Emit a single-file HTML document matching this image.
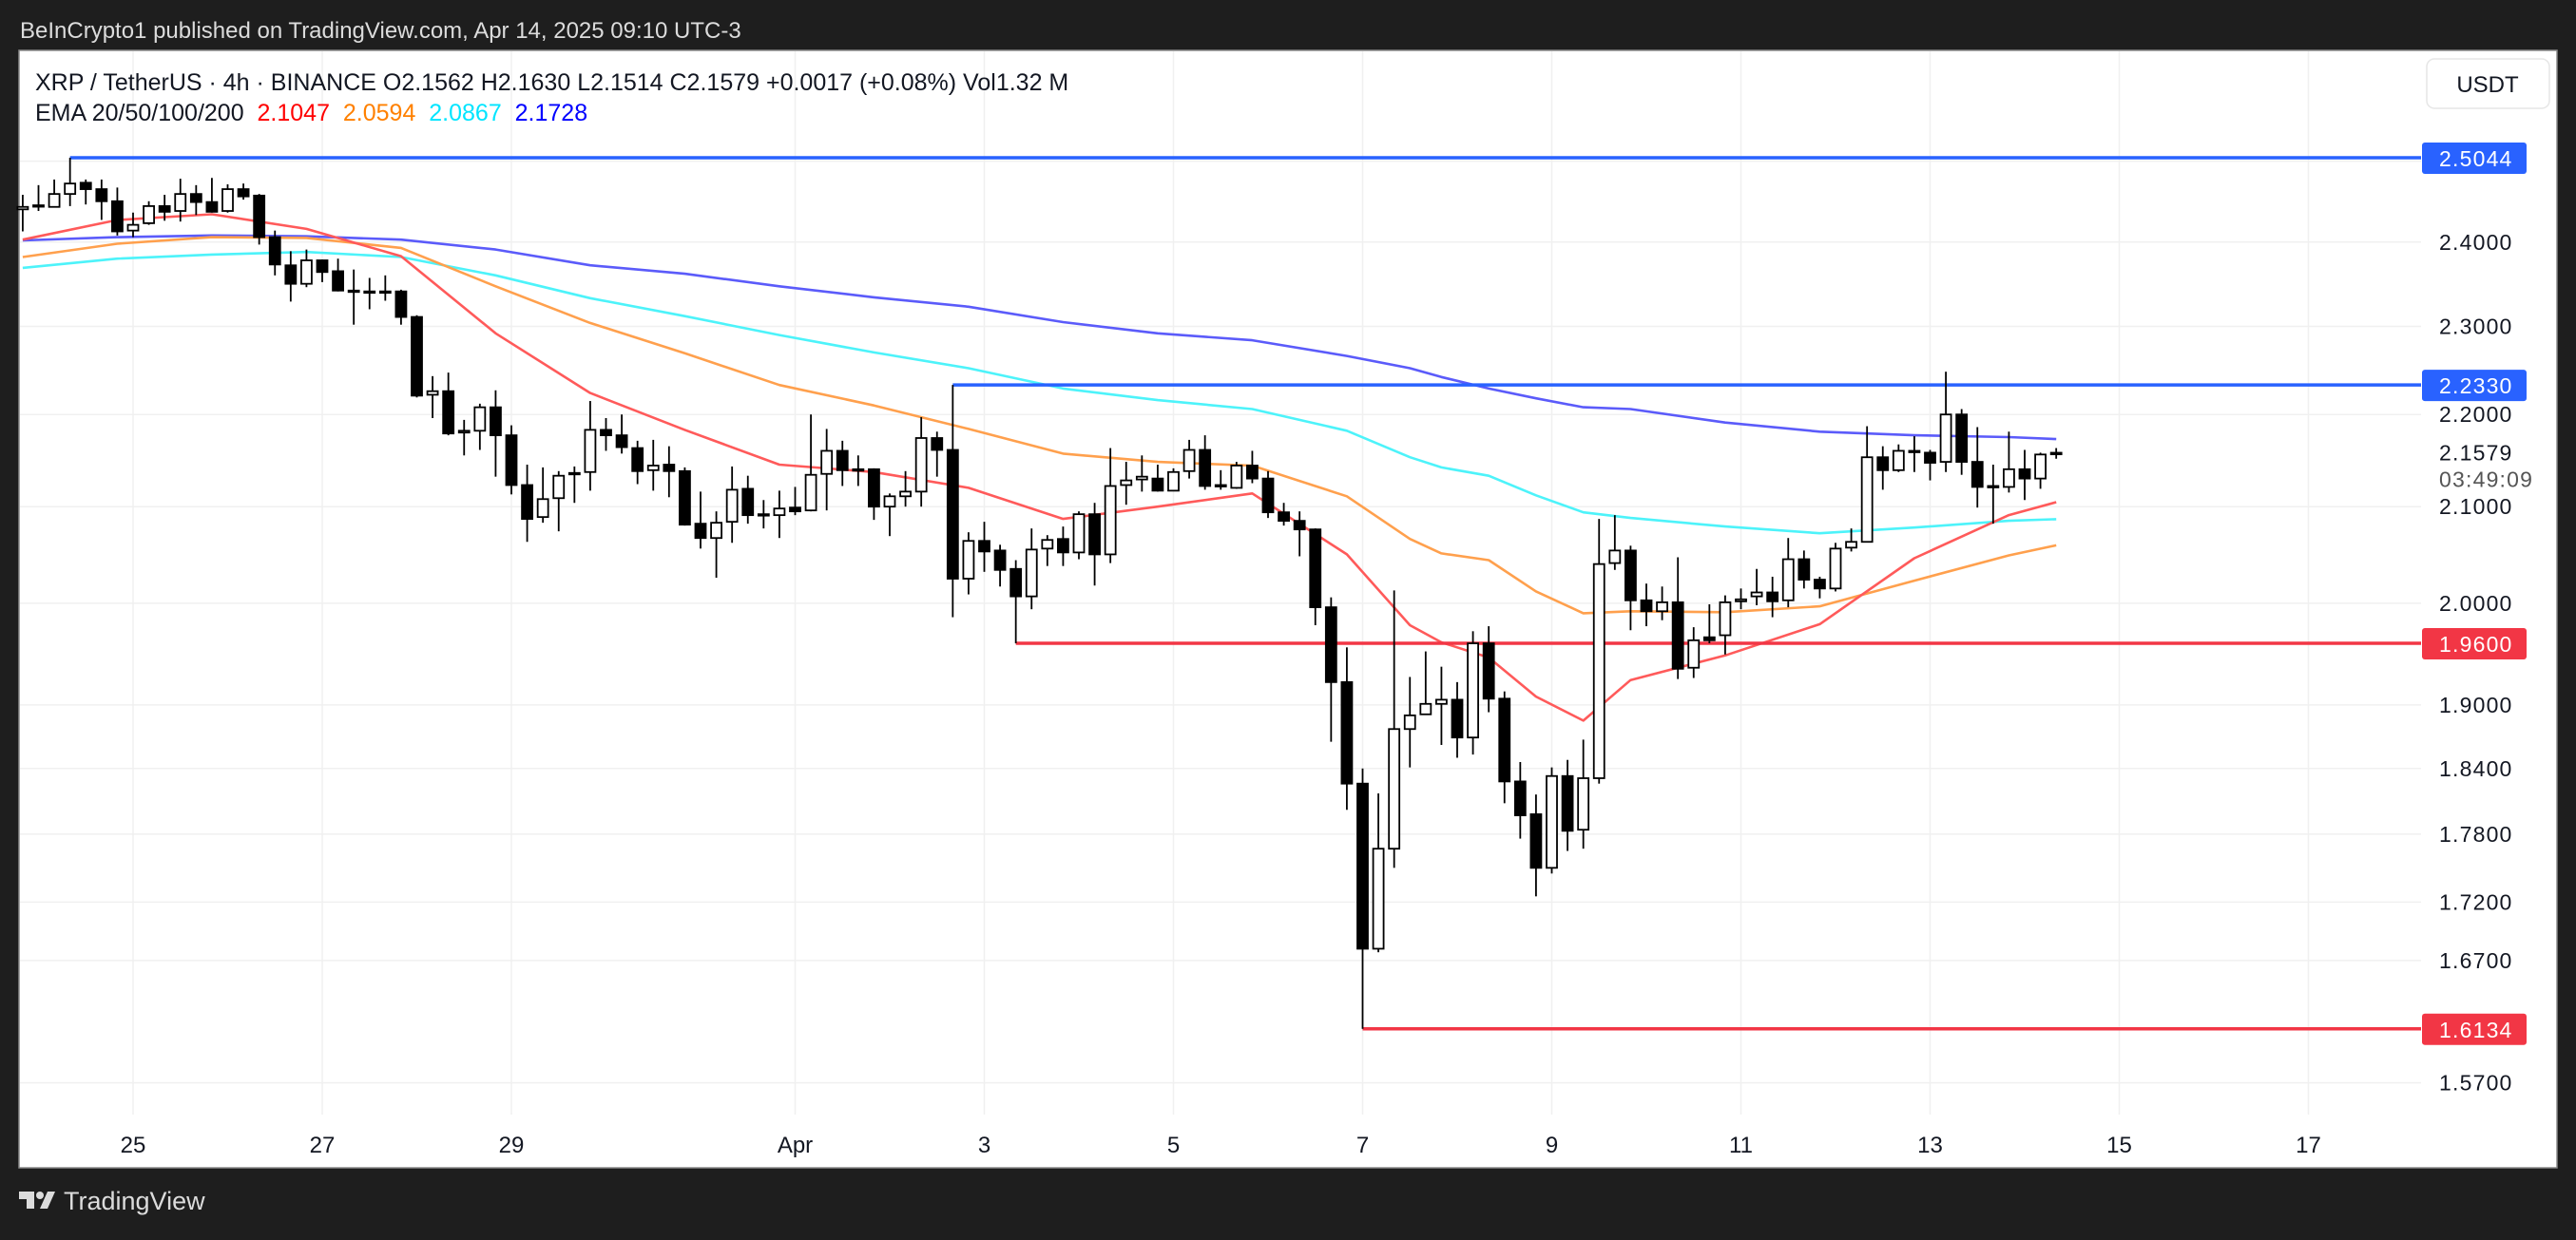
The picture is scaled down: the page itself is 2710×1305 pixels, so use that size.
<!DOCTYPE html>
<html><head><meta charset="utf-8">
<style>
html,body{margin:0;padding:0;background:#1e1e1e;}
body{width:2710px;height:1300px;overflow:hidden;position:relative;font-family:"Liberation Sans",sans-serif;}
svg text{font-family:"Liberation Sans",sans-serif;}
</style></head>
<body>
<svg id="chart" width="2710" height="1300" viewBox="0 0 2710 1300" xmlns="http://www.w3.org/2000/svg">
  <rect x="0" y="0" width="2710" height="1300" fill="#1e1e1e"/>
  <text x="21" y="40" fill="#dcdcdc" font-size="24">BeInCrypto1 published on TradingView.com, Apr 14, 2025 09:10 UTC-3</text>
  <rect x="20" y="53" width="2670" height="1176" fill="#ffffff" stroke="#8a8a8a" stroke-width="1.5"/>
  <g id="grid"></g>
  <g id="emas"></g>
  <g id="levels"></g>
  <g id="candles"></g>
  <g id="yaxis"></g>
  <g id="xaxis"></g>
  <g>
    <text x="37" y="95" font-size="25" fill="#131722">XRP / TetherUS · 4h · BINANCE  O2.1562  H2.1630  L2.1514  C2.1579  +0.0017 (+0.08%)  Vol1.32 M</text>
    <text x="37" y="127" font-size="25" fill="#131722" xml:space="preserve">EMA 20/50/100/200  <tspan fill="#ff0000">2.1047</tspan>  <tspan fill="#ff8000">2.0594</tspan>  <tspan fill="#00e5ff">2.0867</tspan>  <tspan fill="#0000ff">2.1728</tspan></text>
  </g>
  <g>
    <rect x="2553" y="62" width="129" height="52" rx="8" fill="#ffffff" stroke="#e6e6e6" stroke-width="1.5"/>
    <text x="2617" y="97" font-size="24" text-anchor="middle" fill="#131722">USDT</text>
  </g>
  <g>
    <path d="M20 1254 H36 V1272 H28 V1262 H20 Z" fill="#dcdcdc"/>
    <circle cx="42" cy="1258" r="4" fill="#dcdcdc"/>
    <path d="M50 1254 H58 L50 1272 H42 Z" fill="#dcdcdc"/>
    <text x="67" y="1273" font-size="27" fill="#dcdcdc">TradingView</text>
  </g>
</svg>
<script>
// ---- data ----
const candleOpen = [2.440,2.444,2.443,2.459,2.473,2.465,2.450,2.414,2.423,2.444,2.438,2.459,2.449,2.438,2.465,2.457,2.406,2.372,2.350,2.378,2.365,2.342,2.341,2.340,2.341,2.311,2.222,2.226,2.180,2.182,2.208,2.177,2.123,2.089,2.109,2.135,2.137,2.183,2.177,2.163,2.139,2.145,2.138,2.082,2.067,2.084,2.119,2.091,2.091,2.099,2.096,2.135,2.160,2.139,2.140,2.100,2.111,2.116,2.174,2.161,2.025,2.064,2.054,2.035,2.007,2.056,2.066,2.052,2.092,2.050,2.123,2.129,2.130,2.117,2.138,2.161,2.122,2.120,2.144,2.130,2.094,2.085,2.076,1.996,1.922,1.826,1.680,1.767,1.877,1.891,1.901,1.905,1.869,1.960,1.906,1.828,1.798,1.750,1.833,1.784,1.831,2.041,2.054,2.003,1.992,2.001,1.936,1.966,1.968,2.002,2.007,2.011,2.003,2.045,2.024,2.015,2.057,2.063,2.153,2.139,2.160,2.158,2.148,2.200,2.148,2.121,2.121,2.140,2.130,2.1562];
const candleHigh = [2.458,2.470,2.477,2.5044,2.477,2.477,2.467,2.436,2.450,2.458,2.478,2.470,2.479,2.471,2.472,2.459,2.414,2.389,2.391,2.379,2.380,2.367,2.357,2.360,2.343,2.313,2.243,2.247,2.194,2.212,2.227,2.188,2.145,2.142,2.138,2.143,2.215,2.196,2.200,2.171,2.172,2.165,2.142,2.116,2.095,2.143,2.133,2.107,2.117,2.121,2.200,2.184,2.171,2.155,2.141,2.114,2.138,2.197,2.181,2.233,2.073,2.084,2.060,2.044,2.077,2.070,2.079,2.095,2.104,2.163,2.148,2.155,2.145,2.141,2.172,2.177,2.139,2.148,2.160,2.138,2.104,2.095,2.077,2.006,1.956,1.840,1.817,2.013,1.927,1.952,1.937,1.922,1.972,1.977,1.913,1.846,1.816,1.841,1.848,1.867,2.087,2.091,2.059,2.020,2.017,2.047,1.976,1.999,2.008,2.015,2.035,2.027,2.067,2.054,2.027,2.062,2.077,2.187,2.165,2.167,2.176,2.161,2.248,2.206,2.186,2.145,2.181,2.161,2.158,2.1630];
const candleLow = [2.413,2.438,2.443,2.444,2.446,2.427,2.408,2.406,2.421,2.426,2.425,2.433,2.436,2.436,2.452,2.397,2.360,2.329,2.346,2.352,2.341,2.302,2.320,2.330,2.302,2.219,2.196,2.177,2.155,2.161,2.132,2.113,2.063,2.083,2.074,2.104,2.117,2.160,2.157,2.124,2.117,2.110,2.080,2.056,2.026,2.062,2.082,2.077,2.067,2.091,2.095,2.096,2.122,2.122,2.086,2.069,2.100,2.100,2.132,1.986,2.009,2.032,2.017,1.960,1.994,2.038,2.038,2.045,2.018,2.041,2.102,2.116,2.116,2.117,2.130,2.118,2.118,2.119,2.125,2.088,2.080,2.048,1.978,1.865,1.802,1.6134,1.677,1.750,1.841,1.891,1.862,1.850,1.853,1.893,1.808,1.776,1.725,1.745,1.765,1.767,1.826,2.034,1.973,1.977,1.983,1.925,1.926,1.960,1.949,1.994,1.998,1.986,1.996,2.015,2.005,2.012,2.053,2.063,2.118,2.137,2.137,2.128,2.137,2.134,2.099,2.082,2.115,2.107,2.119,2.1514];
const candleClose = [2.443,2.445,2.459,2.472,2.465,2.450,2.413,2.421,2.444,2.437,2.459,2.449,2.437,2.465,2.456,2.406,2.373,2.350,2.378,2.364,2.342,2.341,2.340,2.341,2.311,2.221,2.226,2.179,2.182,2.208,2.177,2.123,2.087,2.108,2.133,2.136,2.183,2.177,2.164,2.138,2.144,2.138,2.081,2.067,2.083,2.118,2.091,2.092,2.098,2.095,2.134,2.160,2.139,2.140,2.100,2.111,2.116,2.174,2.161,2.025,2.064,2.053,2.034,2.007,2.055,2.065,2.052,2.092,2.050,2.122,2.128,2.132,2.117,2.137,2.161,2.122,2.123,2.144,2.130,2.094,2.085,2.076,1.996,1.922,1.826,1.680,1.767,1.877,1.890,1.901,1.905,1.869,1.960,1.906,1.828,1.797,1.750,1.833,1.783,1.831,2.040,2.054,2.003,1.992,2.001,1.935,1.963,1.963,2.001,2.004,2.011,2.002,2.045,2.024,2.015,2.056,2.063,2.153,2.139,2.160,2.159,2.147,2.200,2.148,2.121,2.122,2.140,2.130,2.156,2.1579];

const emaIndex = [0,6,12,18,24,30,36,42,48,54,60,66,72,78,84,88,90,93,96,99,102,108,114,120,126,129];
const ema20 = [2.403,2.427,2.434,2.416,2.383,2.292,2.224,2.183,2.145,2.137,2.120,2.087,2.100,2.114,2.050,1.978,1.961,1.946,1.908,1.885,1.924,1.948,1.979,2.046,2.091,2.1047];
const ema50 = [2.382,2.398,2.406,2.405,2.393,2.347,2.304,2.269,2.233,2.210,2.184,2.157,2.148,2.144,2.111,2.066,2.051,2.044,2.012,1.990,1.992,1.991,1.997,2.023,2.049,2.0594];
const ema100 = [2.369,2.380,2.385,2.388,2.382,2.360,2.333,2.312,2.290,2.270,2.252,2.229,2.216,2.206,2.182,2.153,2.142,2.133,2.112,2.094,2.088,2.079,2.072,2.078,2.085,2.0867];
const ema200 = [2.402,2.406,2.408,2.407,2.403,2.391,2.372,2.362,2.347,2.334,2.323,2.305,2.292,2.284,2.266,2.252,2.242,2.229,2.218,2.208,2.206,2.191,2.181,2.177,2.175,2.1728];

const levelPrices = [2.5044, 2.2330, 1.9600, 1.6134];
const levelStart = [3, 59, 63, 85];
const levelLabels = ["2.5044","2.2330","1.9600","1.6134"];
const levelColors = ["#2962ff","#2962ff","#f23645","#f23645"];

const priceTicks = [2.4, 2.3, 2.2, 2.1, 2.0, 1.9, 1.84, 1.78, 1.72, 1.67, 1.57];
const priceTickLabels = ["2.4000","2.3000","2.2000","2.1000","2.0000","1.9000","1.8400","1.7800","1.7200","1.6700","1.5700"];
const dateTickDays = [0,2,4,7,9,11,13,15,17,19,21,23];
const dateTickLabels = ["25","27","29","Apr","3","5","7","9","11","13","15","17"];
const lastPrice = 2.1579;
const countdown = "03:49:09";

// ---- axes ----
const NS = "http://www.w3.org/2000/svg";
const PLOT_R = 2547;
function yScale(p){ return 166 + (Math.log(2.5044) - Math.log(p)) * 2085; }
function xDay(d){ return 140 + d * 99.5; }
function xCandle(i){ return xDay((i - 7) / 6); }
function mk(tag, attrs, parent){ const e = document.createElementNS(NS, tag); for (const k in attrs) e.setAttribute(k, attrs[k]); parent.appendChild(e); return e; }

const grid = document.getElementById('grid');
const yaxis = document.getElementById('yaxis');
const xaxis = document.getElementById('xaxis');
[2.5].concat(priceTicks).forEach(function(p){
  const gl = mk('line', {x1:21, x2:PLOT_R, y1:yScale(p), y2:yScale(p), stroke:'#f0f0f0', 'stroke-width':1.5}, grid);
  
  
});
priceTicks.forEach(function(p, k){
  const t = mk('text', {x:2566, y:yScale(p)+8, 'font-size':23, fill:'#131722', 'letter-spacing':1.2}, yaxis);
  t.textContent = priceTickLabels[k];
  
  
});
dateTickDays.forEach(function(d, k){
  const x = xDay(d);
  const gl = mk('line', {x1:x, x2:x, y1:54, y2:1173, stroke:'#f0f0f0', 'stroke-width':1.5}, grid);
  
  
  const t = mk('text', {x:x, y:1213, 'font-size':24, fill:'#131722', 'text-anchor':'middle'}, xaxis);
  t.textContent = dateTickLabels[k];
  
  
});

// EMA lines
const emaSeries = [ema200, ema100, ema50, ema20];
const emaColors = ['#5b5bfa', '#4df3fa', '#ffa04d', '#ff5a5a'];
const emaNames = ['ema-200-line', 'ema-100-line', 'ema-50-line', 'ema-20-line'];
const emaG = document.getElementById('emas');
emaSeries.forEach(function(s, k){
  const pts = s.map(function(v, j){ return xCandle(emaIndex[j]).toFixed(1) + ',' + yScale(v).toFixed(1); }).join(' ');
  const pl = mk('polyline', {points:pts, fill:'none', stroke:emaColors[k], 'stroke-width':2.6, 'stroke-linejoin':'round'}, emaG);
  
  
});

// level lines and labels
const lv = document.getElementById('levels');
levelPrices.forEach(function(p, k){
  const y = yScale(p);
  const ln = mk('line', {x1:xCandle(levelStart[k]), x2:PLOT_R, y1:y, y2:y, stroke:levelColors[k], 'stroke-width':3.5}, lv);
  
  
  const r = mk('rect', {x:2548, y:y-16, width:110, height:33, rx:3, fill:levelColors[k]}, yaxis);
  
  
  const t = mk('text', {x:2566, y:y+9, 'font-size':23, fill:'#ffffff', 'letter-spacing':1.2}, yaxis);
  t.textContent = levelLabels[k];
  
  
});
const lp = mk('text', {x:2566, y:yScale(lastPrice)+8, 'font-size':23, fill:'#131722', 'letter-spacing':1.2}, yaxis);
lp.textContent = lastPrice.toFixed(4);


const cd = mk('text', {x:2566, y:yScale(lastPrice)+36, 'font-size':23, fill:'#555555', 'letter-spacing':1.2}, yaxis);
cd.textContent = countdown;



// candles
const cg = document.getElementById('candles');
const BW = 11;
candleOpen.forEach(function(o, i){
  const c = candleClose[i], h = candleHigh[i], l = candleLow[i];
  const x = xCandle(i);
  const up = c >= o;
  const g = mk('g', {}, cg);
  
  
  const top = yScale(Math.max(o, c)), bot = yScale(Math.min(o, c));
  mk('line', {x1:x, x2:x, y1:yScale(h), y2:top, stroke:'#000', 'stroke-width':1.8}, g);
  mk('line', {x1:x, x2:x, y1:bot, y2:yScale(l), stroke:'#000', 'stroke-width':1.8}, g);
  const bh = Math.max(bot - top, 1.5);
  mk('rect', {x:x - BW/2, y:top, width:BW, height:bh, fill: up ? '#ffffff' : '#000000', stroke:'#000', 'stroke-width':1.8}, g);
});
</script>
</body></html>
